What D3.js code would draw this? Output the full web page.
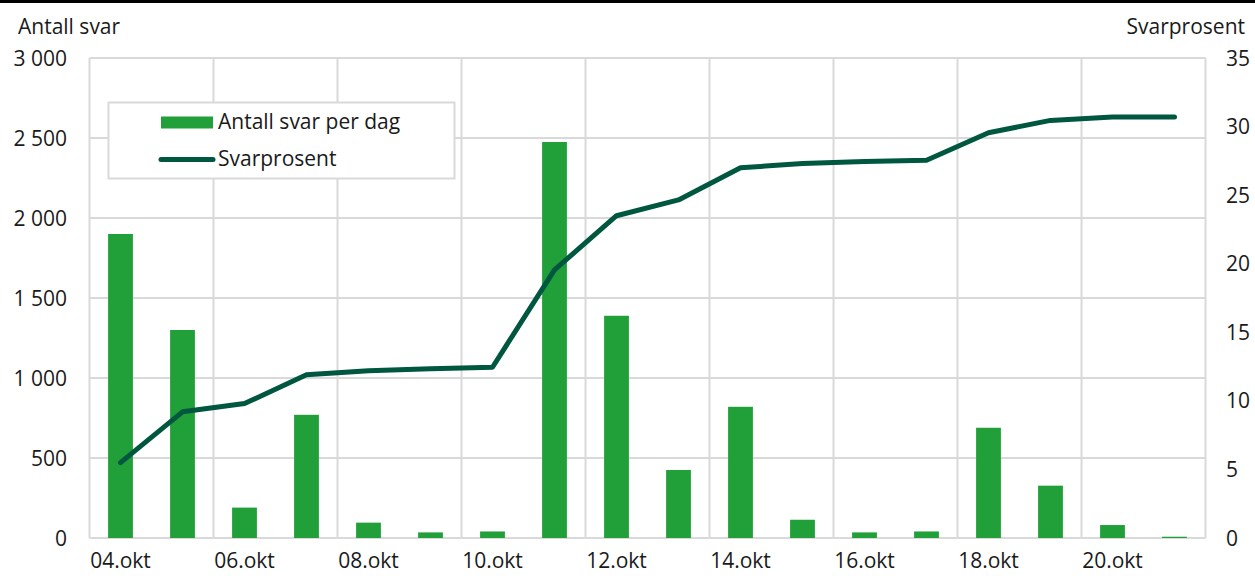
<!DOCTYPE html>
<html>
<head>
<meta charset="utf-8">
<script src="https://cdn.jsdelivr.net/npm/d3@7"></script>
<style>
  body { margin: 0; background: #fff; }
  svg text { font-family: "Open Sans", "Noto Sans", sans-serif; fill: #1a1a1a; }
</style>
</head>
<body>
<svg id="chart" width="1255" height="578"></svg>
<script>
const dates = ["04.okt", "05.okt", "06.okt", "07.okt", "08.okt", "09.okt", "10.okt", "11.okt", "12.okt",
               "13.okt", "14.okt", "15.okt", "16.okt", "17.okt", "18.okt", "19.okt", "20.okt", "21.okt"];
const svarPerDag = [1900, 1300, 190, 770, 96, 35, 41, 2475, 1389, 425, 820, 114, 35, 41, 689, 327, 81, 8];
const svarprosent = [5.5, 9.2, 9.8, 11.9, 12.2, 12.35, 12.45, 19.55, 23.5, 24.65, 27.0, 27.3, 27.45, 27.55, 29.55, 30.45, 30.7, 30.7];
const leftTicks = [0, 500, 1000, 1500, 2000, 2500, 3000];
const rightTicks = [0, 5, 10, 15, 20, 25, 30, 35];

const barColor = "#21a03a",
      lineColor = "#00573f",
      gridColor = "#d9d9d9";

const svg = d3.select("#chart");
const margin = { left: 89.5, right: 49.5, top: 58, bottom: 40 };
const W = 1255, H = 578;

const x = d3.scaleBand()
    .domain(dates)
    .range([margin.left, W - margin.right])
    .paddingInner(0.6)
    .paddingOuter(0.3);
const yLeft = d3.scaleLinear().domain([0, 3000]).range([H - margin.bottom, margin.top]);
const yRight = d3.scaleLinear().domain([0, 35]).range([H - margin.bottom, margin.top]);

const nb = d3.formatLocale({ decimal: ",", thousands: " ", grouping: [3], currency: ["", " kr"] });
const fmt = nb.format(",");

// top rule
svg.append("line")
    .attr("x1", 0).attr("x2", W)
    .attr("y1", 1.5).attr("y2", 1.5)
    .attr("stroke", "#000").attr("stroke-width", 3);

// grid
const grid = svg.append("g");
grid.selectAll(".hgrid")
    .data(leftTicks)
    .enter().append("line")
    .attr("x1", margin.left).attr("x2", W - margin.right)
    .attr("y1", d => yLeft(d)).attr("y2", d => yLeft(d))
    .attr("stroke", gridColor).attr("stroke-width", 2);
const step = x.step(),
      x0 = x.range()[0];
grid.selectAll(".vgrid")
    .data(d3.range(0, dates.length + 1, 2))
    .enter().append("line")
    .attr("x1", i => x0 + i * step).attr("x2", i => x0 + i * step)
    .attr("y1", yLeft(3000)).attr("y2", yLeft(0))
    .attr("stroke", gridColor).attr("stroke-width", 2);

// bars
svg.selectAll(".bar")
    .data(svarPerDag)
    .enter().append("rect")
    .attr("class", "bar")
    .attr("x", (d, i) => x(dates[i]))
    .attr("y", d => yLeft(d))
    .attr("width", x.bandwidth())
    .attr("height", d => yLeft(0) - yLeft(d))
    .attr("fill", barColor);

// line
const line = d3.line()
    .x((d, i) => x(dates[i]) + x.bandwidth() / 2)
    .y(d => yRight(d));
svg.append("path")
    .datum(svarprosent)
    .attr("d", line)
    .attr("fill", "none")
    .attr("stroke", lineColor)
    .attr("stroke-width", 5)
    .attr("stroke-linejoin", "round")
    .attr("stroke-linecap", "round");

// left axis labels
svg.selectAll(".ltick")
    .data(leftTicks)
    .enter().append("text")
    .attr("x", 67)
    .attr("y", d => yLeft(d))
    .attr("dy", "0.36em")
    .attr("text-anchor", "end")
    .attr("font-size", 21)
    .text(d => fmt(d));

// right axis labels
svg.selectAll(".rtick")
    .data(rightTicks)
    .enter().append("text")
    .attr("x", 1226)
    .attr("y", d => yRight(d))
    .attr("dy", "0.36em")
    .attr("text-anchor", "start")
    .attr("font-size", 21)
    .text(d => d);

// x labels every other day
svg.selectAll(".xlab")
    .data(dates.filter((d, i) => i % 2 === 0))
    .enter().append("text")
    .attr("x", d => x(d) + x.bandwidth() / 2)
    .attr("y", 568)
    .attr("text-anchor", "middle")
    .attr("font-size", 21)
    .text(d => d);

// axis titles
svg.append("text").attr("x", 18).attr("y", 34).attr("font-size", 21).text("Antall svar");
svg.append("text").attr("x", 1245).attr("y", 34).attr("text-anchor", "end").attr("font-size", 21).text("Svarprosent");

// legend
const legend = svg.append("g");
legend.append("rect")
    .attr("x", 108.5).attr("y", 102.5)
    .attr("width", 346).attr("height", 76)
    .attr("fill", "#fff")
    .attr("stroke", gridColor).attr("stroke-width", 2);
legend.append("rect")
    .attr("x", 161).attr("y", 116.5)
    .attr("width", 52).attr("height", 12)
    .attr("fill", barColor);
legend.append("text").attr("x", 218).attr("y", 129).attr("font-size", 21).text("Antall svar per dag");
legend.append("line")
    .attr("x1", 161).attr("x2", 213)
    .attr("y1", 159.5).attr("y2", 159.5)
    .attr("stroke", lineColor).attr("stroke-width", 5)
    .attr("stroke-linecap", "round");
legend.append("text").attr("x", 218).attr("y", 166).attr("font-size", 21).text("Svarprosent");
</script>
</body>
</html>
